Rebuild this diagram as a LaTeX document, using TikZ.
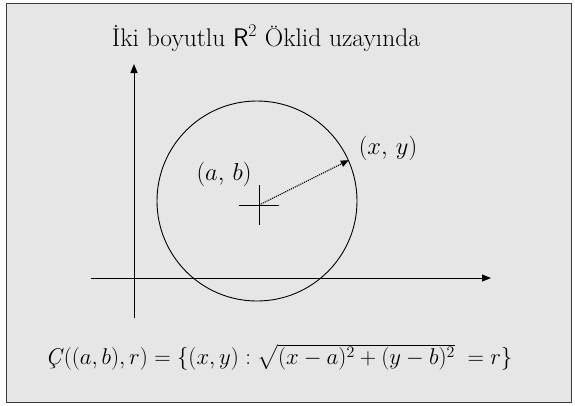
\RequirePackage{fix-cm}
\documentclass[tikz,border=0pt]{standalone}
\usepackage{amsmath}
\usepackage{fontspec}
\usepackage{tikz}
\usetikzlibrary{arrows.meta,calc,positioning}
\definecolor{panelgray}{RGB}{230,230,230}
\definecolor{framegray}{RGB}{60,60,60}
\tikzset{
  panel/.style={draw=framegray,line width=1.4pt,fill=panelgray},
  axis arrow/.style={-{Triangle[length=9pt,width=7pt]},line width=1pt},
  radius arrow/.style={-{Triangle[length=8pt,width=6.5pt]},densely dotted,line width=1.1pt},
  circle line/.style={circle,draw,line width=0.9pt,minimum size=200pt,inner sep=0pt},
  point label/.style={font=\fontsize{24.5}{28}\selectfont},
  title label/.style={font=\fontsize{25.5}{30}\selectfont,anchor=base},
}

\begin{document}
\begin{tikzpicture}[x=1pt,y=-1pt]
  % The panel fixes the size of the page.
  \useasboundingbox (0,0) rectangle (575,405);
  \draw[panel] (6.5,3.5) rectangle (571.5,402.5);

  \node[title label] (title) at (266,46)
    {İki boyutlu \textsf{R}\textsuperscript{2} Öklid uzayında};

  % Axes.
  \coordinate (xstart) at (91,278);
  \coordinate (xend) at (491,278);
  \coordinate (ystart) at (134,318);
  \coordinate (yend) at (134,64);
  \draw[axis arrow] (xstart) -- (xend);
  \draw[axis arrow] (ystart) -- (yend);

  % The circle, its centre and one point on it.
  \node[circle line] (circ) at (257,201) {};
  \coordinate (ctr) at (259,205);
  \draw[line width=0.9pt] ($(ctr)+(-20,0)$) -- ($(ctr)+(20,0)$)
    ($(ctr)+(0,-20)$) -- ($(ctr)+(0,20)$);
  \draw[radius arrow] (ctr) -- (circ.24);

  \node[point label] (center) at (224,174) {$(a,\,b)$};
  \node[point label] (point) at (388,148) {$(x,\,y)$};

  \node[font=\fontsize{22.8}{27}\selectfont,anchor=base] (formula) at (279,364)
    {\textit{Ç}$((a,b),r)=\{(x,y):\sqrt{(x-a)^2+(y-b)^2}\;=r\}$};
\end{tikzpicture}
\end{document}
